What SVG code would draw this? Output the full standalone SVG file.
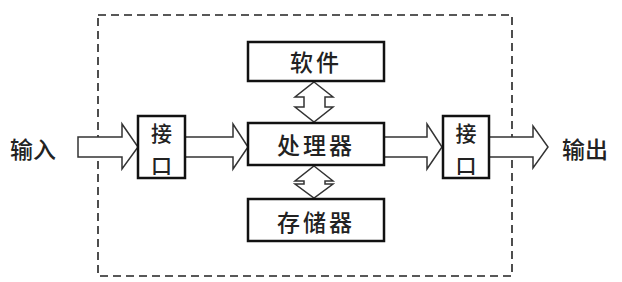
<svg xmlns="http://www.w3.org/2000/svg" width="622" height="282" viewBox="0 0 622 282">
<style>
.box{fill:#fff;stroke:#111;stroke-width:2.5}
.arr{fill:#fff;stroke:#333;stroke-width:1.5;stroke-linejoin:miter}
.t{font-family:"Noto Sans CJK SC","Noto Sans",sans-serif;font-size:23px;font-weight:500;fill:#222;text-anchor:middle;dominant-baseline:central}
.s{font-size:21px}
.frame{fill:none;stroke:#222;stroke-width:1.6;stroke-dasharray:8 5}
</style>
<rect class="frame" x="98" y="15" width="414" height="261"/>
<g id="connectors">
<polygon class="arr" points="78,137 122,137 122,124 138,147 122,169 122,157 78,157"/>
<polygon class="arr" points="185,137 233,137 233,124 248,147 233,169 233,157 185,157"/>
<polygon class="arr" points="384,137 427,137 427,124 442,147 427,169 427,157 384,157"/>
<polygon class="arr" points="489,137 533,137 533,126 548,147 533,168 533,157 489,157"/>
<polygon class="arr" points="314,82 333,97 325,97 325,107 333,107 314,122 295,107 304,107 304,97 295,97"/>
<polygon class="arr" points="314,166 333,181 325,181 325,184 333,184 314,198 295,184 304,184 304,181 295,181"/>
</g>
<g id="input"><text class="t" x="33" y="148">输入</text></g>
<g id="output"><text class="t" x="585" y="148">输出</text></g>
<g id="iface-left"><rect class="box" x="138" y="116" width="47" height="62"/><text class="t s" x="161.5" y="132">接</text><text class="t s" x="161.5" y="163.5">口</text></g>
<g id="iface-right"><rect class="box" x="443" y="116" width="46" height="62"/><text class="t s" x="466" y="132">接</text><text class="t s" x="466" y="163.5">口</text></g>
<g id="software"><rect class="box" x="248" y="42" width="136" height="39"/><text class="t" x="316" y="61" letter-spacing="3">软件</text></g>
<g id="processor"><rect class="box" x="248" y="123" width="136" height="42"/><text class="t" x="316" y="144" letter-spacing="3">处理器</text></g>
<g id="storage"><rect class="box" x="248" y="199" width="136" height="42"/><text class="t" x="316" y="221" letter-spacing="3">存储器</text></g>
</svg>
